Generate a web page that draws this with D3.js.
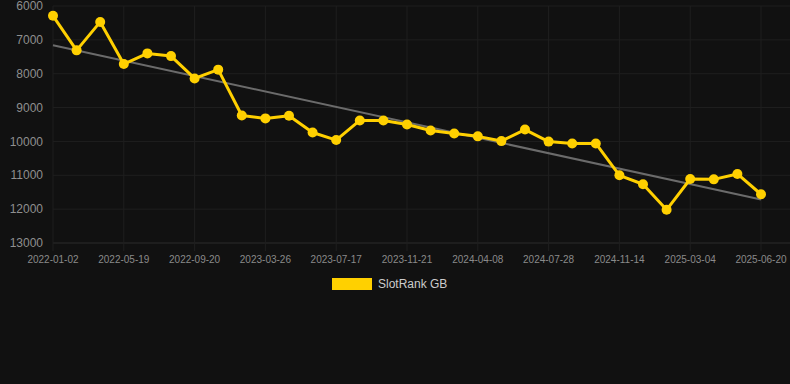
<!DOCTYPE html>
<html>
<head>
<meta charset="utf-8">
<script src="https://cdn.jsdelivr.net/npm/d3@7"></script>
<style>
  html, body { margin: 0; padding: 0; background: #111111; }
  svg { display: block; font-family: "Liberation Sans", Arial, sans-serif; }
</style>
</head>
<body>
<svg id="chart"></svg>
<script>
// one entry per observation, labels only shown on every third point
const tickLabels = ['2022-01-02', '2022-05-19', '2022-09-20', '2023-03-26', '2023-07-17', '2023-11-21',
  '2024-04-08', '2024-07-28', '2024-11-14', '2025-03-04', '2025-06-20'];
const rankValues = [6290, 7310, 6470, 7715, 7400, 7480, 8140, 7880, 9235, 9320, 9240,
  9735, 9960, 9380, 9380, 9500, 9675, 9765, 9850, 9990, 9650,
  10005, 10060, 10060, 11000, 11265, 12020, 11110, 11120, 10960, 11560];
const yTicks = [6000, 7000, 8000, 9000, 10000, 11000, 12000, 13000];
const seriesName = 'SlotRank GB';

const WIDTH = 790, HEIGHT = 384;
const MARGIN = { LEFT: 53, RIGHT: 29, TOP: 6, BOTTOM: 141 };
const GOLD = '#ffd000';

const svg = d3.select('#chart').attr('width', WIDTH).attr('height', HEIGHT);
svg.append('rect').attr('width', WIDTH).attr('height', HEIGHT).attr('fill', '#111111');

const idx = d3.range(rankValues.length);
const x = d3.scalePoint(idx, [MARGIN.LEFT, WIDTH - MARGIN.RIGHT]);
const y = d3.scaleLinear([6000, 13000], [MARGIN.TOP, HEIGHT - MARGIN.BOTTOM]);

// horizontal grid
svg.append('g').selectAll('line').data(yTicks).join('line')
  .attr('x1', MARGIN.LEFT).attr('x2', WIDTH)
  .attr('y1', (d) => y(d)).attr('y2', (d) => y(d))
  .attr('stroke', (d) => (d === 13000 ? '#2c2c2c' : '#1f1f1f'))
  .attr('stroke-width', 1);

// vertical grid at labelled points
const labelled = idx.filter((i) => i % 3 === 0);
svg.append('g').selectAll('line').data(labelled).join('line')
  .attr('x1', (d) => x(d)).attr('x2', (d) => x(d))
  .attr('y1', MARGIN.TOP).attr('y2', y(13000) + 8)
  .attr('stroke', '#1f1f1f').attr('stroke-width', 1);

// y axis labels
svg.append('g').selectAll('text').data(yTicks).join('text')
  .attr('x', 43).attr('y', (d) => y(d)).attr('dy', '0.35em')
  .attr('text-anchor', 'end').attr('fill', '#8f8f8f').attr('font-size', 12)
  .text((d) => d);

// x axis labels
svg.append('g').selectAll('text').data(labelled).join('text')
  .attr('x', (d) => x(d)).attr('y', y(13000) + 16).attr('dy', '0.35em')
  .attr('text-anchor', 'middle').attr('fill', '#8a8a8a').attr('font-size', 10)
  .text((d, i) => tickLabels[i]);

// trend line (least squares)
const mx = d3.mean(idx), my = d3.mean(rankValues);
const slope = d3.sum(idx, (i) => (i - mx) * (rankValues[i] - my)) / d3.sum(idx, (i) => (i - mx) ** 2);
const trend = (i) => my + slope * (i - mx);
svg.append('line')
  .attr('x1', x(0)).attr('y1', y(trend(0)))
  .attr('x2', x(idx.length - 1)).attr('y2', y(trend(idx.length - 1)))
  .attr('stroke', '#6b6b6b').attr('stroke-width', 2);

// series
svg.append('path').datum(idx)
  .attr('fill', 'none').attr('stroke', GOLD).attr('stroke-width', 3)
  .attr('stroke-linejoin', 'round')
  .attr('d', d3.line().x((i) => x(i)).y((i) => y(rankValues[i])));

svg.append('g').selectAll('circle').data(idx).join('circle')
  .attr('cx', (i) => x(i)).attr('cy', (i) => y(rankValues[i]))
  .attr('r', 5).attr('fill', GOLD);

// legend
const legend = svg.append('g').attr('transform', 'translate(332, 278)');
legend.append('rect').attr('width', 40).attr('height', 12).attr('fill', GOLD);
legend.append('text').attr('x', 46).attr('y', 6).attr('dy', '0.35em')
  .attr('fill', '#cccccc').attr('font-size', 12).text(seriesName);
</script>
</body>
</html>
